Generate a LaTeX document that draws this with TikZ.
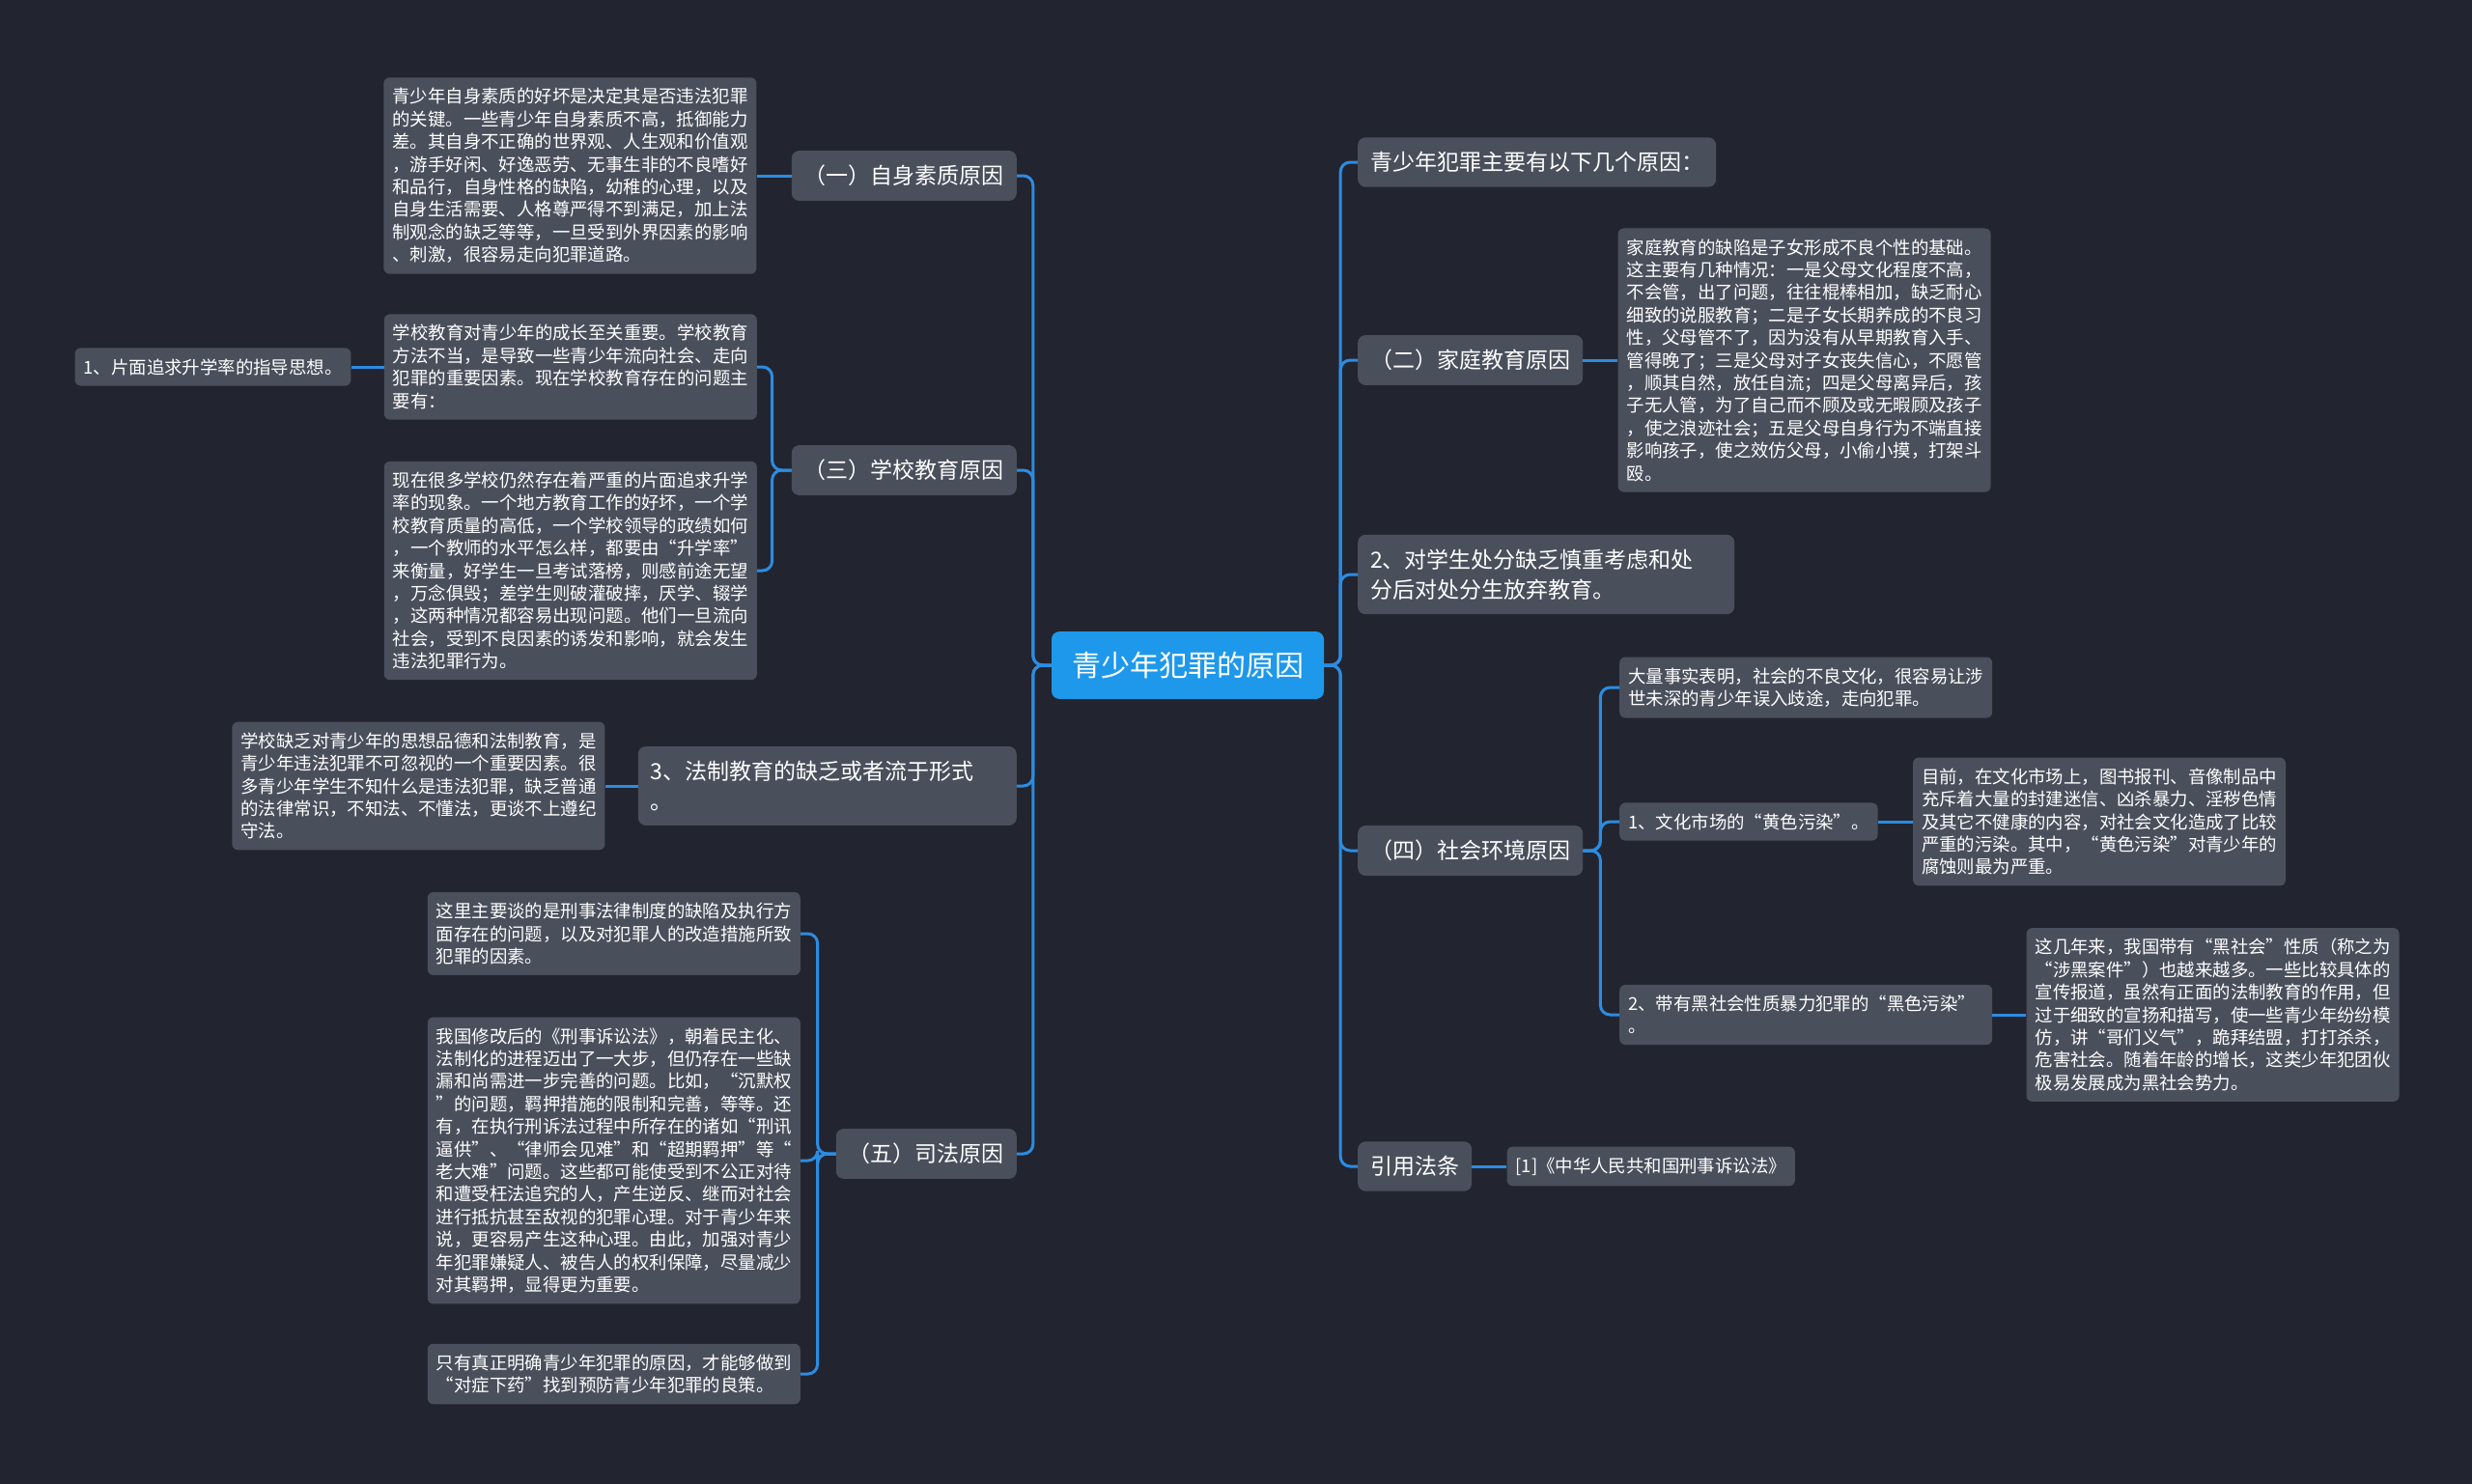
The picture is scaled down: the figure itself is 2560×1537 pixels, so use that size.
\documentclass[tikz,border=0pt]{standalone}
\usepackage{fontspec}
\setmainfont{Noto Sans CJK SC}
\usetikzlibrary{positioning}
\definecolor{mapbg}{RGB}{34,37,47}
\definecolor{mapgrey}{RGB}{74,79,92}
\definecolor{mapblue}{RGB}{30,152,234}
\definecolor{maplink}{RGB}{44,140,226}

\begin{document}
\begin{tikzpicture}[
    x=1pt, y=-1pt,
    rootbox/.style={rectangle, rounded corners=8pt, fill=mapblue, text=white, font=\fontsize{30}{36}\selectfont, inner xsep=21pt, inner ysep=21pt},
    topicbox/.style={rectangle, rounded corners=8pt, fill=mapgrey, text=white, font=\fontsize{23}{31}\selectfont, inner xsep=13pt, inner ysep=15pt, align=left},
    tagbox/.style={rectangle, rounded corners=6pt, fill=mapgrey, text=white, font=\fontsize{18.4}{23.4}\selectfont, inner xsep=9pt, inner ysep=11pt, align=left},
    leafbox/.style={tagbox, text width=368pt},
    link/.style={draw=maplink, line width=3pt, rounded corners=10pt}
]
\useasboundingbox (0,0) rectangle (2560,1537);
\fill[mapbg] (0,0) rectangle (2560,1537);

% centre
\node[rootbox] (root) at (1230,689) {青少年犯罪的原因};

% left branches
\node[topicbox, anchor=east] (n1) at (1053,182) {（一）自身素质原因};
\node[leafbox, left=36pt of n1] (n1a) {青少年自身素质的好坏是决定其是否违法犯罪\\的关键。一些青少年自身素质不高，抵御能力\\差。其自身不正确的世界观、人生观和价值观\\，游手好闲、好逸恶劳、无事生非的不良嗜好\\和品行，自身性格的缺陷，幼稚的心理，以及\\自身生活需要、人格尊严得不到满足，加上法\\制观念的缺乏等等，一旦受到外界因素的影响\\、刺激，很容易走向犯罪道路。};

\node[topicbox, anchor=east] (n3) at (1053,487) {（三）学校教育原因};
\node[leafbox, anchor=east] (n3a) at (784,380) {学校教育对青少年的成长至关重要。学校教育\\方法不当，是导致一些青少年流向社会、走向\\犯罪的重要因素。现在学校教育存在的问题主\\要有：};
\node[tagbox, left=34pt of n3a] (n3a1) {1、片面追求升学率的指导思想。};
\node[leafbox, anchor=east] (n3b) at (784,591) {现在很多学校仍然存在着严重的片面追求升学\\率的现象。一个地方教育工作的好坏，一个学\\校教育质量的高低，一个学校领导的政绩如何\\，一个教师的水平怎么样，都要由“升学率”\\来衡量，好学生一旦考试落榜，则感前途无望\\，万念俱毁；差学生则破灌破摔，厌学、辍学\\，这两种情况都容易出现问题。他们一旦流向\\社会，受到不良因素的诱发和影响，就会发生\\违法犯罪行为。};

\node[topicbox, anchor=east, text width=366pt] (nf) at (1053,814) {3、法制教育的缺乏或者流于形式\\。};
\node[leafbox, left=34pt of nf] (nfa) {学校缺乏对青少年的思想品德和法制教育，是\\青少年违法犯罪不可忽视的一个重要因素。很\\多青少年学生不知什么是违法犯罪，缺乏普通\\的法律常识，不知法、不懂法，更谈不上遵纪\\守法。};

\node[topicbox, anchor=east] (n5) at (1053,1195) {（五）司法原因};
\node[leafbox, anchor=east] (n5a) at (829,967) {这里主要谈的是刑事法律制度的缺陷及执行方\\面存在的问题，以及对犯罪人的改造措施所致\\犯罪的因素。};
\node[leafbox, anchor=east] (n5b) at (829,1202) {我国修改后的《刑事诉讼法》，朝着民主化、\\法制化的进程迈出了一大步，但仍存在一些缺\\漏和尚需进一步完善的问题。比如，“沉默权\\”的问题，羁押措施的限制和完善，等等。还\\有，在执行刑诉法过程中所存在的诸如“刑讯\\逼供”、“律师会见难”和“超期羁押”等“\\老大难”问题。这些都可能使受到不公正对待\\和遭受枉法追究的人，产生逆反、继而对社会\\进行抵抗甚至敌视的犯罪心理。对于青少年来\\说，更容易产生这种心理。由此，加强对青少\\年犯罪嫌疑人、被告人的权利保障，尽量减少\\对其羁押，显得更为重要。};
\node[leafbox, anchor=east] (n5c) at (829,1423) {只有真正明确青少年犯罪的原因，才能够做到\\“对症下药”找到预防青少年犯罪的良策。};

% right branches
\node[topicbox, anchor=west] (r0) at (1406,168) {青少年犯罪主要有以下几个原因：};

\node[topicbox, anchor=west] (r2) at (1406,373) {（二）家庭教育原因};
\node[leafbox, right=36pt of r2] (r2a) {家庭教育的缺陷是子女形成不良个性的基础。\\这主要有几种情况：一是父母文化程度不高，\\不会管，出了问题，往往棍棒相加，缺乏耐心\\细致的说服教育；二是子女长期养成的不良习\\性，父母管不了，因为没有从早期教育入手、\\管得晚了；三是父母对子女丧失信心，不愿管\\，顺其自然，放任自流；四是父母离异后，孩\\子无人管，为了自己而不顾及或无暇顾及孩子\\，使之浪迹社会；五是父母自身行为不端直接\\影响孩子，使之效仿父母，小偷小摸，打架斗\\殴。};

\node[topicbox, anchor=west, text width=364pt] (rs) at (1406,595) {2、对学生处分缺乏慎重考虑和处\\分后对处分生放弃教育。};

\node[topicbox, anchor=west] (r4) at (1406,881) {（四）社会环境原因};
\node[leafbox, anchor=west] (r4a) at (1677,712) {大量事实表明，社会的不良文化，很容易让涉\\世未深的青少年误入歧途，走向犯罪。};
\node[tagbox, anchor=west] (r4b) at (1677,851) {1、文化市场的“黄色污染”。};
\node[leafbox, right=36pt of r4b] (r4b1) {目前，在文化市场上，图书报刊、音像制品中\\充斥着大量的封建迷信、凶杀暴力、淫秽色情\\及其它不健康的内容，对社会文化造成了比较\\严重的污染。其中，“黄色污染”对青少年的\\腐蚀则最为严重。};
\node[leafbox, anchor=west] (r4c) at (1677,1051) {2、带有黑社会性质暴力犯罪的“黑色污染”\\。};
\node[leafbox, right=35pt of r4c] (r4c1) {这几年来，我国带有“黑社会”性质（称之为\\“涉黑案件”）也越来越多。一些比较具体的\\宣传报道，虽然有正面的法制教育的作用，但\\过于细致的宣扬和描写，使一些青少年纷纷模\\仿，讲“哥们义气”，跪拜结盟，打打杀杀，\\危害社会。随着年龄的增长，这类少年犯团伙\\极易发展成为黑社会势力。};

\node[topicbox, anchor=west] (rl) at (1406,1208) {引用法条};
\node[tagbox, right=36pt of rl] (rl1) {[1]《中华人民共和国刑事诉讼法》};

% connectors from the centre
\draw[link] (root.west) -- ++(-19,0) |- (n1.east);
\draw[link] (root.west) -- ++(-19,0) |- (n3.east);
\draw[link] (root.west) -- ++(-19,0) |- (nf.east);
\draw[link] (root.west) -- ++(-19,0) |- (n5.east);
\draw[link] (root.east) -- ++(17,0) |- (r0.west);
\draw[link] (root.east) -- ++(17,0) |- (r2.west);
\draw[link] (root.east) -- ++(17,0) |- (rs.west);
\draw[link] (root.east) -- ++(17,0) |- (r4.west);
\draw[link] (root.east) -- ++(17,0) |- (rl.west);

% second level
\draw[link] (n1.west) -- (n1a.east);
\draw[link] (n3.west) -- ++(-20,0) |- (n3a.east);
\draw[link] (n3.west) -- ++(-20,0) |- (n3b.east);
\draw[link] (n3a.west) -- (n3a1.east);
\draw[link] (nf.west) -- (nfa.east);
\draw[link] (n5.west) -- ++(-19,0) |- (n5a.east);
\draw[link] (n5.west) -- ++(-19,0) |- (n5b.east);
\draw[link] (n5.west) -- ++(-19,0) |- (n5c.east);
\draw[link] (r2.east) -- (r2a.west);
\draw[link] (r4.east) -- ++(18,0) |- (r4a.west);
\draw[link] (r4.east) -- ++(18,0) |- (r4b.west);
\draw[link] (r4.east) -- ++(18,0) |- (r4c.west);
\draw[link] (r4b.east) -- (r4b1.west);
\draw[link] (r4c.east) -- (r4c1.west);
\draw[link] (rl.east) -- (rl1.west);
\end{tikzpicture}
\end{document}
